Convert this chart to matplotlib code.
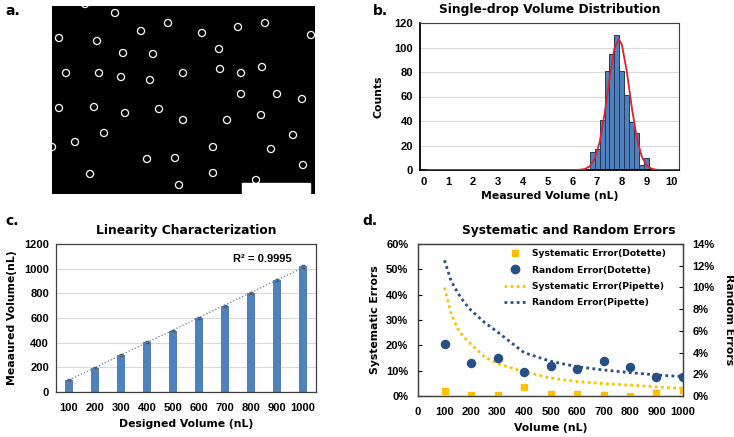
import numpy as np
import matplotlib
matplotlib.use("Agg")
import matplotlib.pyplot as plt
from matplotlib.patches import Rectangle
from matplotlib.lines import Line2D
from matplotlib.ticker import FuncFormatter

# ---- panel a: droplet image (circle centres in image pixels) ----
drop_x = [85, 115, 168, 265, 238, 141, 202, 311, 59, 97, 219, 123, 153, 262, 66, 99, 183,
          220, 241, 121, 150, 241, 277, 302, 59, 94, 159, 125, 261, 183, 227, 104, 293, 75,
          52, 213, 271, 147, 175, 303, 90, 213, 256, 179]
drop_y = [4, 13, 23, 23, 27, 31, 33, 35, 38, 41, 49, 53, 54, 67, 73, 73, 73, 69, 73, 77,
          80, 94, 94, 99, 108, 107, 109, 113, 115, 120, 120, 133, 135, 142, 147, 147, 149,
          159, 158, 165, 174, 173, 180, 185]

# ---- panel b: histogram ----
bin_left = [6.7, 6.9, 7.1, 7.3, 7.5, 7.7, 7.9, 8.1, 8.3, 8.5, 8.7, 8.9]
counts = [15, 17, 41, 81, 95, 110, 81, 61, 39, 30, 4, 10]
fit_x = [0.2, 6.0, 6.3, 6.5, 6.7, 6.9, 7.1, 7.3, 7.5, 7.7, 7.87, 8.0, 8.2, 8.4, 8.6, 8.8,
         9.0, 9.2, 9.4, 9.7, 10.3]
fit_y = [0, 0, 0.2, 0.8, 2.9, 8.9, 22.3, 45.4, 74.6, 99.2, 107, 102.3, 80.2, 50.9, 26.1,
         10.9, 3.7, 1.0, 0.2, 0, 0]

# ---- panel c: linearity ----
designed = ["100", "200", "300", "400", "500", "600", "700", "800", "900", "1000"]
measured = [100, 197, 299, 407, 498, 603, 698, 801, 910, 1018]
measured_err = [6, 6, 7, 7, 7, 8, 8, 9, 9, 9]

# ---- panel d: errors ----
vol = [100, 200, 300, 400, 500, 600, 700, 800, 900, 1000]
sys_dotette = [2.1, 0.5, 0.5, 3.7, 0.8, 0.6, 0.4, 0.05, 1.2, 2.2]
rand_dotette = [4.82, 3.07, 3.53, 2.24, 2.76, 2.52, 3.2, 2.7, 1.78, 1.78]
pip_vol = [100, 125, 150, 175, 200, 250, 300, 400, 500, 600, 700, 800, 900, 1000]
sys_pipette = [42.8, 32.5, 26.5, 23.0, 20.5, 15.5, 12.8, 9.6, 7.1, 5.7, 4.9, 4.3, 3.6, 3.0]
rand_pipette = [12.5, 10.6, 9.5, 8.6, 7.9, 6.8, 5.9, 4.0, 3.2, 2.7, 2.4, 2.15, 1.94, 1.78]

W, H = 734, 437
fig = plt.figure(figsize=(W / 100, H / 100), dpi=100)

def box(x0, y0, x1, y1):
    return [x0 / W, 1 - y1 / H, (x1 - x0) / W, (y1 - y0) / H]

bold = dict(fontweight="bold")
tfont = dict(fontsize=8.8, fontweight="bold")
lfont = dict(fontsize=7.8, fontweight="bold")
tick_font = "Liberation Sans"
frame_col = "#404040"
grid_col = "#D9D9D9"
blue = "#4F81BD"

def bold_ticks(*axes):
    for a in axes:
        for lab in a.get_xticklabels() + a.get_yticklabels():
            lab.set_fontweight("bold")
            lab.set_fontfamily(tick_font)
            lab.set_fontsize(8)

# panel a
axa = fig.add_axes(box(52, 6, 315, 194))
axa.set_facecolor("black")
axa.scatter(drop_x, drop_y, s=26, facecolors="none", edgecolors="white", linewidths=0.9)
axa.add_patch(Rectangle((242, 183), 68, 10, color="white"))
axa.set_xlim(52, 315)
axa.set_ylim(194, 6)
axa.set_xticks([])
axa.set_yticks([])
for s in axa.spines.values():
    s.set_visible(False)
fig.text(5 / W, 1 - 11 / H, "a.", fontsize=10, va="center", **bold)

# panel b
axb = fig.add_axes(box(420, 23, 679, 170))
axb.bar(bin_left, counts, width=0.2, align="edge", color=blue, edgecolor="#1F3A60",
        linewidth=0.7, zorder=2)
axb.plot(fit_x, fit_y, color="#E0202A", lw=1.3, zorder=3)
axb.set_xlim(-0.13, 10.3)
axb.set_ylim(0, 120)
axb.set_xticks(range(0, 11))
axb.set_yticks(range(0, 121, 20))
axb.yaxis.grid(True, color=grid_col, lw=0.8, zorder=0)
axb.set_axisbelow(True)
axb.tick_params(length=0, pad=5)
bold_ticks(axb)
for k, s in axb.spines.items():
    s.set_color(frame_col if k in ("top", "right") else "black")
    s.set_linewidth(0.8 if k in ("top", "right") else 1.3)
axb.set_title("Single-drop Volume Distribution", pad=7, **tfont)
axb.set_xlabel("Measured Volume (nL)", labelpad=3, **lfont)
axb.set_ylabel("Counts", labelpad=8, **lfont)
fig.text(373 / W, 1 - 11 / H, "b.", fontsize=10, va="center", **bold)

# panel c
axc = fig.add_axes(box(56, 244, 316, 392))
xc = np.arange(len(designed))
axc.bar(xc, measured, width=0.28, color=blue, zorder=2, yerr=measured_err,
        error_kw=dict(ecolor="#595959", lw=0.6, capsize=1.5))
k, b = np.polyfit(xc, measured, 1)
axc.plot(xc, k * xc + b, ls=":", color="#5B7DB1", lw=0.9, zorder=3)
axc.text(7.45, 1080, "R² = 0.9995", fontsize=8, ha="center", va="center",
         family=tick_font, **bold)
axc.set_xlim(-0.5, 9.5)
axc.set_ylim(0, 1200)
axc.set_xticks(xc)
axc.set_xticklabels(designed)
axc.set_yticks(range(0, 1201, 200))
axc.yaxis.grid(True, color=grid_col, lw=0.8, zorder=0)
axc.set_axisbelow(True)
axc.tick_params(axis="x", length=0, pad=8)
axc.tick_params(axis="y", length=0, pad=5)
bold_ticks(axc)
for s in axc.spines.values():
    s.set_color(frame_col)
    s.set_linewidth(0.9)
axc.set_title("Linearity Characterization", pad=7, **tfont)
axc.set_xlabel("Designed Volume (nL)", labelpad=4, **lfont)
axc.set_ylabel("Meaaured Volume(nL)", labelpad=5, **lfont)
fig.text(5 / W, 1 - 221 / H, "c.", fontsize=10, va="center", **bold)

# panel d
yellow = "#FFC000"
navy = "#264F86"
axd = fig.add_axes(box(418, 244, 683, 396))
axd2 = axd.twinx()
axd.plot(pip_vol, sys_pipette, ls=(0, (1, 1.2)), color=yellow, lw=2.0, zorder=2)
axd.scatter(vol, sys_dotette, marker="s", s=22, color=yellow, zorder=3)
axd2.plot(pip_vol, rand_pipette, ls=(0, (1, 1.2)), color=navy, lw=2.0, zorder=2)
axd2.scatter(vol, rand_dotette, marker="o", s=34, color=navy, zorder=3)
axd.set_xlim(0, 1000)
axd.set_ylim(0, 60)
axd2.set_ylim(0, 14)
axd.set_xticks(range(0, 1001, 100))
axd.set_yticks(range(0, 61, 10))
axd2.set_yticks(range(0, 15, 2))
pct = FuncFormatter(lambda v, p: "%d%%" % v)
axd.yaxis.set_major_formatter(pct)
axd2.yaxis.set_major_formatter(pct)
axd.tick_params(axis="x", length=0, pad=8)
axd.tick_params(axis="y", direction="in", length=3, pad=7)
axd2.tick_params(axis="y", direction="in", length=3, pad=7)
bold_ticks(axd, axd2)
for a in (axd, axd2):
    for s in a.spines.values():
        s.set_color(frame_col)
        s.set_linewidth(0.9)
axd.set_title("Systematic and Random Errors", pad=7, x=0.57, **tfont)
axd.set_xlabel("Volume (nL)", labelpad=4, **lfont)
axd.set_ylabel("Systematic Errors", labelpad=4, **lfont)
axd2.set_ylabel("Random Errors", rotation=-90, labelpad=14, **lfont)
handles = [
    Line2D([], [], marker="s", ls="none", color=yellow, markersize=5),
    Line2D([], [], marker="o", ls="none", color=navy, markersize=6),
    Line2D([], [], ls=(0, (1, 1.2)), color=yellow, lw=2.0),
    Line2D([], [], ls=(0, (1, 1.2)), color=navy, lw=2.0),
]
labels = ["Systematic Error(Dotette)", "Random Error(Dotette)",
          "Systematic Error(Pipette)", "Random Error(Pipette)"]
axd2.legend(handles, labels, loc="upper right", bbox_to_anchor=(0.965, 1.02), frameon=False,
            prop=dict(size=6.6, weight="bold"), handlelength=2.3, labelspacing=0.8,
            handletextpad=0.7)
fig.text(362 / W, 1 - 221 / H, "d.", fontsize=10, va="center", **bold)

fig.savefig("out.png", dpi=100, facecolor="white")
